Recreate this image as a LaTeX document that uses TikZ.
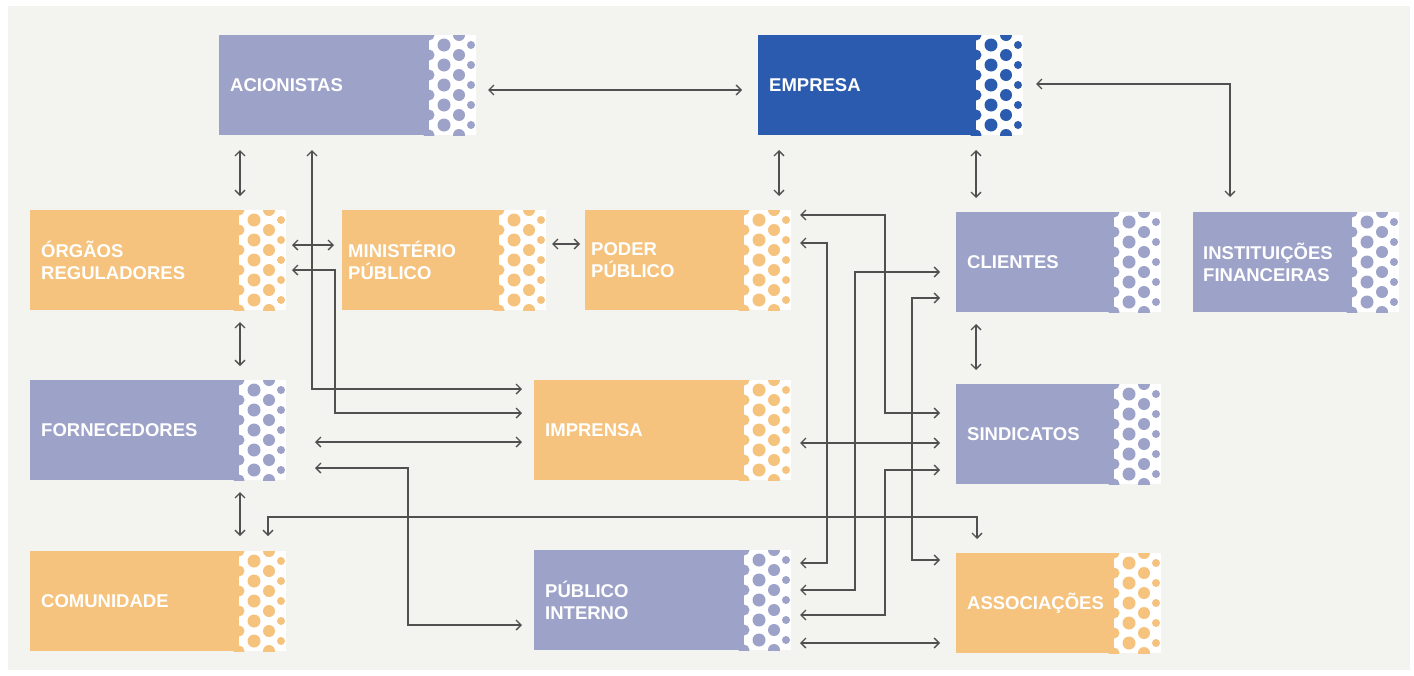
\documentclass[tikz,border=0pt]{standalone}
\usepackage{fontspec}
\setmainfont{Liberation Sans}
\usetikzlibrary{arrows.meta}
\definecolor{lav}{HTML}{9DA2C9}
\definecolor{org}{HTML}{F5C37D}
\definecolor{emp}{HTML}{2B5BAF}
\definecolor{panel}{HTML}{F3F4EF}
\definecolor{ln}{HTML}{505050}
\newcommand\dotstrip[3]{%
  \begin{scope}
  \clip (#1-8,#2) rectangle (#1+48,#2+100);
  \fill[white] (#1,#2) rectangle (#1+47,#2+100);
  \foreach \i in {0,...,5}{
    \fill[#3] (#1,#2+\i*20) circle (5.5);
    \fill[#3] (#1+30,#2+\i*20) circle (6);
  }
  \foreach \i in {0,...,4}{
    \fill[#3] (#1+15,#2+10+\i*20) circle (6.5);
    \fill[#3] (#1+42,#2+10+\i*20) circle (4);
  }
  \end{scope}
}
\begin{document}
\begin{tikzpicture}[x=1pt,y=-1pt,
  stake/.style={rectangle, inner xsep=11pt, inner ysep=0pt, minimum height=100pt,
    anchor=north west, align=left, text=white,
    font=\fontsize{18.5}{22.5}\selectfont\bfseries},
  conn/.style={draw=ln, line width=1.3pt,
    arrows={Straight Barb[length=5pt,width=10pt]-Straight Barb[length=5pt,width=10pt]}}]
\useasboundingbox (0,0) rectangle (1414,675);
\fill[white] (0,0) rectangle (1414,675);
\fill[panel] (8,6) rectangle (1410,670);

% boxes
\node[stake, fill=lav, text width=188pt] (acio) at (219,35) {ACIONISTAS};
\dotstrip{429}{35}{lav}
\node[stake, fill=emp, text width=196pt] (emp) at (758,35) {EMPRESA};
\dotstrip{976}{35}{emp}
\node[stake, fill=org, text width=187pt] (org) at (30,210) {ÓRGÃOS\\REGULADORES};
\dotstrip{239}{210}{org}
\node[stake, fill=org, inner xsep=6pt, text width=145pt] (min) at (342,210) {MINISTÉRIO\\PÚBLICO};
\dotstrip{499}{210}{org}
\node[stake, fill=org, inner xsep=6pt, text width=147pt] (pod) at (585,210) {PODER\\PÚBLICO};
\dotstrip{744}{210}{org}
\node[stake, fill=lav, text width=136pt] (cli) at (956,212) {CLIENTES};
\dotstrip{1114}{212}{lav}
\node[stake, fill=lav, inner xsep=10pt, text width=139pt] (ins) at (1193,212) {INSTITUIÇÕES\\FINANCEIRAS};
\dotstrip{1352}{212}{lav}
\node[stake, fill=lav, text width=187pt] (for) at (30,380) {FORNECEDORES};
\dotstrip{239}{380}{lav}
\node[stake, fill=org, text width=188pt] (imp) at (534,380) {IMPRENSA};
\dotstrip{744}{380}{org}
\node[stake, fill=lav, text width=136pt] (sin) at (956,384) {SINDICATOS};
\dotstrip{1114}{384}{lav}
\node[stake, fill=org, text width=187pt] (com) at (30,551) {COMUNIDADE};
\dotstrip{239}{551}{org}
\node[stake, fill=lav, text width=188pt] (pub) at (534,550) {PÚBLICO\\INTERNO};
\dotstrip{744}{550}{lav}
\node[stake, fill=org, text width=136pt] (asc) at (956,553) {ASSOCIAÇÕES};
\dotstrip{1114}{553}{org}

% connector end points
\coordinate (acio-e) at (488,90);   \coordinate (emp-w) at (742,90);
\coordinate (emp-e) at (1036,84);   \coordinate (ins-n) at (1230,197);
\coordinate (acio-s) at (240,150);  \coordinate (org-n) at (240,196);
\coordinate (emp-s1) at (779,150);  \coordinate (pod-n) at (779,196);
\coordinate (emp-s2) at (976,150);  \coordinate (cli-n) at (976,198);
\coordinate (org-e1) at (292,245);  \coordinate (min-w) at (334,245);
\coordinate (min-e) at (552,244);   \coordinate (pod-w) at (580,244);
\coordinate (org-s) at (240,322);   \coordinate (for-n) at (240,366);
\coordinate (for-s) at (240,492);   \coordinate (com-n1) at (240,536);
\coordinate (cli-s) at (976,324);   \coordinate (sin-n) at (976,370);
\coordinate (acio-s2) at (312,150); \coordinate (imp-w1) at (522,389);
\coordinate (org-e2) at (292,270);  \coordinate (imp-w2) at (522,413);
\coordinate (for-e1) at (315,442);  \coordinate (imp-w3) at (522,442);
\coordinate (for-e2) at (315,468);  \coordinate (pub-w) at (522,625);
\coordinate (com-n2) at (268,536);  \coordinate (asc-n) at (977,539);
\coordinate (pod-e1) at (800,215);  \coordinate (sin-w1) at (940,413);
\coordinate (pod-e2) at (800,243);  \coordinate (pub-e1) at (800,563);
\coordinate (cli-w1) at (940,272);  \coordinate (pub-e2) at (800,590);
\coordinate (cli-w2) at (940,298);  \coordinate (asc-w1) at (940,560);
\coordinate (sin-w3) at (940,470);  \coordinate (pub-e3) at (800,615);
\coordinate (imp-e) at (800,443);   \coordinate (sin-w2) at (940,443);
\coordinate (pub-e4) at (800,643);  \coordinate (asc-w2) at (940,643);

% connectors
\draw[conn] (acio-e) -- (emp-w);
\draw[conn] (emp-e) -| (ins-n);
\draw[conn] (acio-s) -- (org-n);
\draw[conn] (emp-s1) -- (pod-n);
\draw[conn] (emp-s2) -- (cli-n);
\draw[conn] (org-e1) -- (min-w);
\draw[conn] (min-e) -- (pod-w);
\draw[conn] (org-s) -- (for-n);
\draw[conn] (for-s) -- (com-n1);
\draw[conn] (cli-s) -- (sin-n);
\draw[conn] (acio-s2) |- (imp-w1);
\draw[conn] (org-e2) -- ++(43,0) |- (imp-w2);
\draw[conn] (for-e1) -- (imp-w3);
\draw[conn] (for-e2) -- ++(93,0) |- (pub-w);
\draw[conn] (com-n2) -- ++(0,-19) -| (asc-n);
\draw[conn] (pod-e1) -- ++(85,0) |- (sin-w1);
\draw[conn] (pod-e2) -- ++(27,0) |- (pub-e1);
\draw[conn] (cli-w1) -- ++(-85,0) |- (pub-e2);
\draw[conn] (cli-w2) -- ++(-28,0) |- (asc-w1);
\draw[conn] (sin-w3) -- ++(-55,0) |- (pub-e3);
\draw[conn] (imp-e) -- (sin-w2);
\draw[conn] (pub-e4) -- (asc-w2);
\end{tikzpicture}
\end{document}
